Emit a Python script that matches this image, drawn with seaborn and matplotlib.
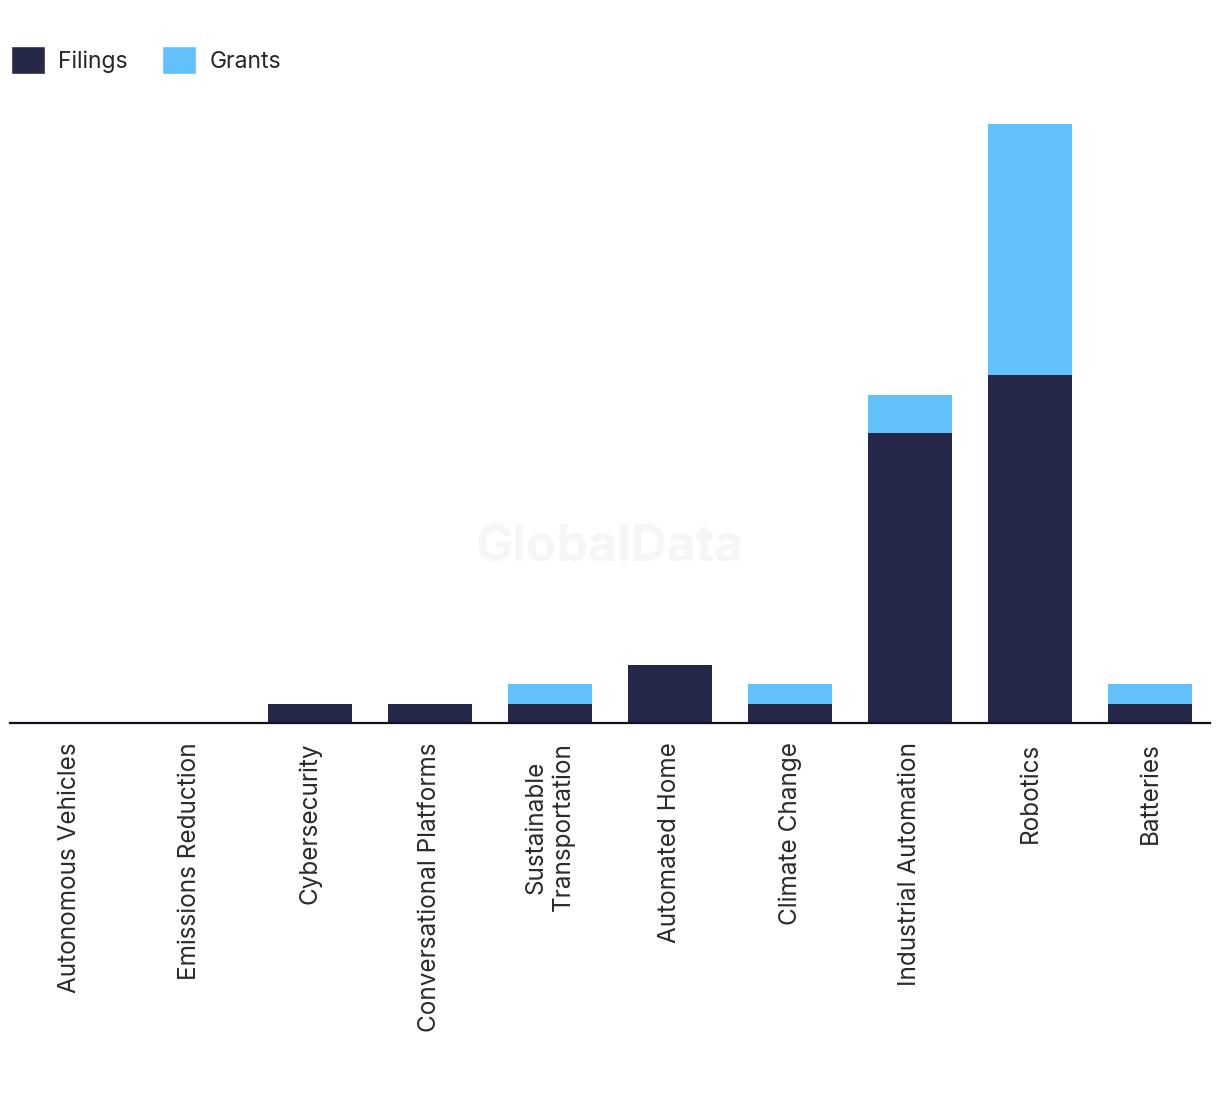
import pandas as pd
import seaborn as sns
import matplotlib.pyplot as plt
from matplotlib.patches import Patch

categories = ['Autonomous Vehicles', 'Emissions Reduction', 'Cybersecurity',
              'Conversational Platforms', 'Sustainable\nTransportation',
              'Automated Home', 'Climate Change', 'Industrial Automation',
              'Robotics', 'Batteries']
filings = [0, 0, 1, 1, 1, 3, 1, 15, 18, 1]
grants = [0, 0, 0, 0, 1, 0, 1, 2, 13, 1]

dark = '#262849'
light = '#62C1FA'

df = pd.DataFrame({'category': categories, 'filings': filings, 'grants': grants})
df['total'] = df['filings'] + df['grants']

sns.set_style('white')
plt.rcParams['font.family'] = ['Inter', 'DejaVu Sans']

fig = plt.figure(figsize=(12.2, 10.94), dpi=100)
ax = fig.add_axes([10 / 1220, 371 / 1094, 1200 / 1220, 599 / 1094])

# stacked: total in grants colour, filings drawn over it
sns.barplot(data=df, x='category', y='total', color=light, width=0.7,
            saturation=1, linewidth=0, ax=ax)
sns.barplot(data=df, x='category', y='filings', color=dark, width=0.7,
            saturation=1, linewidth=0, ax=ax)

ax.set_xlim(-0.5, 9.5)
ax.set_ylim(0, 31)
ax.set_xlabel('')
ax.set_ylabel('')
ax.set_yticks([])
for s in ['top', 'right', 'left']:
    ax.spines[s].set_visible(False)
ax.spines['bottom'].set_color('#11111f')
ax.spines['bottom'].set_linewidth(1.6)
ax.tick_params(axis='x', length=0, pad=14)
plt.setp(ax.get_xticklabels(), rotation=90, ha='center', va='top',
         fontsize=17.5, color='#2b2b2b', multialignment='center')

fig.text(0.5, 1 - 548 / 1094, 'GlobalData', fontsize=36, fontweight='bold',
         color='#f6f6f6', ha='center', va='center', zorder=0)

handles = [Patch(facecolor=dark, label='Filings'),
           Patch(facecolor=light, label='Grants')]
fig.legend(handles=handles, loc='upper left', bbox_to_anchor=(0.0, 0.968),
           ncol=2, frameon=False, fontsize=16.5, handlelength=1.45,
           handleheight=1.45, handletextpad=0.6, columnspacing=1.5,
           borderaxespad=0.2, borderpad=0.3)

fig.savefig('out.png', dpi=100, facecolor='white')
